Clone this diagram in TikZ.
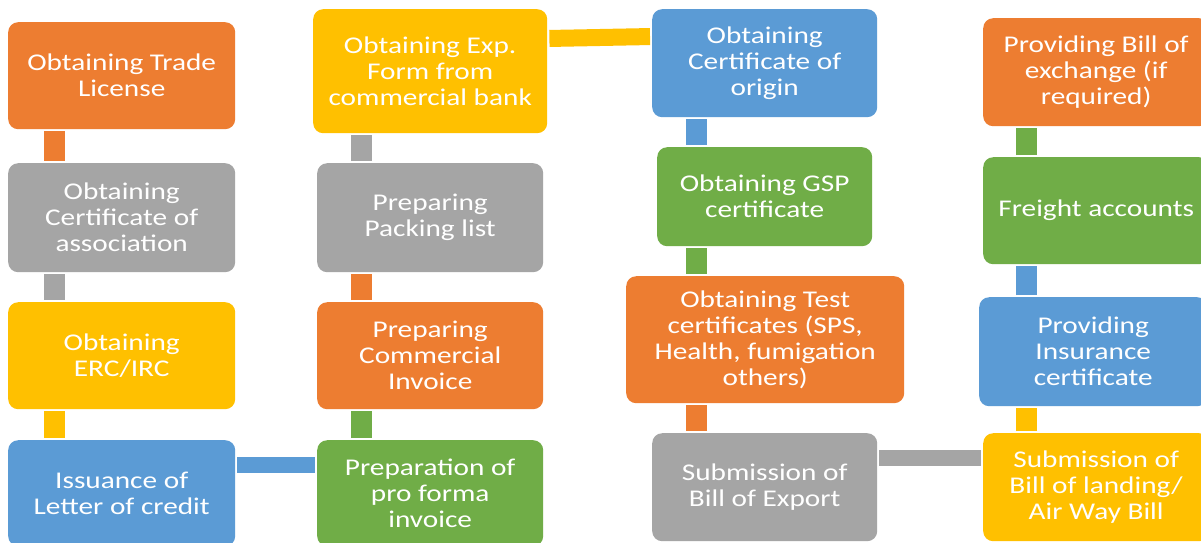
\documentclass[tikz,border=0pt]{standalone}
\usepackage{fontspec}
\setmainfont{Carlito}[FakeStretch=1.22]
\definecolor{cOr}{HTML}{ED7D31}
\definecolor{cGr}{HTML}{A5A5A5}
\definecolor{cYe}{HTML}{FFC000}
\definecolor{cBl}{HTML}{5B9BD5}
\definecolor{cGn}{HTML}{70AD47}
\begin{document}
\begin{tikzpicture}[x=1pt,y=-1pt,
  box/.style={rounded corners=10pt, text=white, align=center, inner sep=0pt,
    anchor=north west, font=\fontsize{24}{26}\selectfont},
  conn/.style={line width=21pt, shorten >=2pt, shorten <=2pt},
  hconn/.style={line width=16pt, shorten >=2pt, shorten <=2pt}]
\useasboundingbox (0,0) rectangle (1201,542);
\fill[white] (0,0) rectangle (1201,542);
\clip (0,0) rectangle (1201,542);
% column 1
\node[box, fill=cOr, minimum width=227pt, minimum height=107pt] (tl) at (8,22) {Obtaining Trade\\License};
\node[box, fill=cGr, minimum width=227pt, minimum height=109pt] (ca) at (8,163) {Obtaining\\Certificate of\\association};
\node[box, fill=cYe, minimum width=227pt, minimum height=107pt] (erc) at (8,302) {Obtaining\\ERC/IRC};
\node[box, fill=cBl, minimum width=227pt, minimum height=106pt] (lc) at (8,440) {Issuance of\\Letter of credit};
% column 2
\node[box, fill=cGn, minimum width=226pt, minimum height=106pt] (pf) at (317,440) {Preparation of\\pro forma\\invoice};
\node[box, fill=cOr, minimum width=226pt, minimum height=107pt] (ci) at (317,302) {Preparing\\Commercial\\Invoice};
\node[box, fill=cGr, minimum width=226pt, minimum height=109pt] (pl) at (317,163) {Preparing\\Packing list};
\node[box, fill=cYe, minimum width=234pt, minimum height=124pt] (ef) at (313,9) {Obtaining Exp.\\Form from\\commercial bank};
% column 3
\node[box, fill=cBl, minimum width=225pt, minimum height=108pt] (co) at (652,9) {Obtaining\\Certificate of\\origin};
\node[box, fill=cGn, minimum width=215pt, minimum height=99pt] (gsp) at (657,147) {Obtaining GSP\\certificate};
\node[box, fill=cOr, minimum width=278pt, minimum height=127pt] (tc) at (626,276) {Obtaining Test\\certificates (SPS,\\Health, fumigation\\others)};
\node[box, fill=cGr, minimum width=225pt, minimum height=108pt] (be) at (652,433) {Submission of\\Bill of Export};
% column 4
\node[box, fill=cYe, minimum width=226pt, minimum height=108pt] (bl) at (983,433) {Submission of\\Bill of landing/\\Air Way Bill};
\node[box, fill=cBl, minimum width=228pt, minimum height=109pt] (ins) at (979,297) {Providing\\Insurance\\certificate};
\node[box, fill=cGn, minimum width=226pt, minimum height=107pt] (fr) at (983,157) {Freight accounts};
\node[box, fill=cOr, minimum width=226pt, minimum height=108pt] (bx) at (983,18) {Providing Bill of\\exchange (if\\required)};
% connector guides
\coordinate (k1) at (54.5,0);
\coordinate (k2) at (361.5,0);
\coordinate (k3) at (696.5,0);
\coordinate (k4) at (1026,0);
\coordinate (h1) at (0,465);
\coordinate (h2) at (0,458);
\coordinate (ha) at (0,38.5);
\coordinate (hb) at (0,36.5);
% connectors
\draw[conn, cOr] (tl.south -| k1) -- (ca.north -| k1);
\draw[conn, cGr] (ca.south -| k1) -- (erc.north -| k1);
\draw[conn, cYe] (erc.south -| k1) -- (lc.north -| k1);
\draw[hconn, cBl] (lc.east |- h1) -- (pf.west |- h1);
\draw[conn, cGn] (pf.north -| k2) -- (ci.south -| k2);
\draw[conn, cOr] (ci.north -| k2) -- (pl.south -| k2);
\draw[conn, cGr] (pl.north -| k2) -- (ef.south -| k2);
\draw[line width=17pt, shorten >=2pt, shorten <=2pt, cYe] (ef.east |- ha) -- (co.west |- hb);
\draw[conn, cBl] (co.south -| k3) -- (gsp.north -| k3);
\draw[conn, cGn] (gsp.south -| k3) -- (tc.north -| k3);
\draw[conn, cOr] (tc.south -| k3) -- (be.north -| k3);
\draw[hconn, cGr] (be.east |- h2) -- (bl.west |- h2);
\draw[conn, cYe] (bl.north -| k4) -- (ins.south -| k4);
\draw[conn, cBl] (ins.north -| k4) -- (fr.south -| k4);
\draw[conn, cGn] (fr.north -| k4) -- (bx.south -| k4);
\end{tikzpicture}
\end{document}
